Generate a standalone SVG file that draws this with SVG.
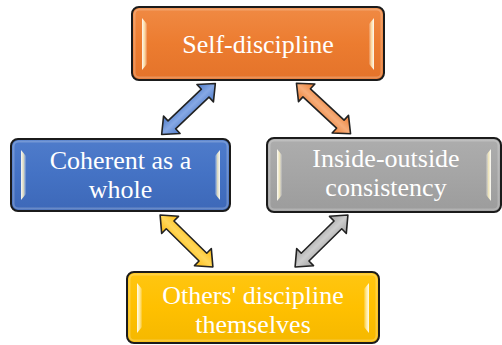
<svg xmlns="http://www.w3.org/2000/svg" width="502" height="345" viewBox="0 0 502 345">
  <style>
    .box { stroke: #1b1b1b; stroke-width: 2; }
    .bevel { fill: none; stroke: #ffffff; stroke-opacity: 0.22; stroke-width: 2; }
    .label { font-family: "Liberation Serif", "Times New Roman", serif; font-size: 26px; fill: #ffffff; text-anchor: middle; }
    .arrow { stroke: #222222; stroke-width: 1.6; stroke-linejoin: round; }
    .gloss { fill: url(#glossL); }
  </style>
  <defs>
    <linearGradient id="gOrange" x1="0" y1="0" x2="0" y2="1">
      <stop offset="0" stop-color="#f08a44"/>
      <stop offset="0.5" stop-color="#ec7c30"/>
      <stop offset="1" stop-color="#e4732a"/>
    </linearGradient>
    <linearGradient id="gBlue" x1="0" y1="0" x2="0" y2="1">
      <stop offset="0" stop-color="#4f7ccb"/>
      <stop offset="0.5" stop-color="#4472c4"/>
      <stop offset="1" stop-color="#3d68b8"/>
    </linearGradient>
    <linearGradient id="gGray" x1="0" y1="0" x2="0" y2="1">
      <stop offset="0" stop-color="#adadad"/>
      <stop offset="0.5" stop-color="#a5a5a5"/>
      <stop offset="1" stop-color="#9c9c9c"/>
    </linearGradient>
    <linearGradient id="gYellow" x1="0" y1="0" x2="0" y2="1">
      <stop offset="0" stop-color="#ffc612"/>
      <stop offset="0.5" stop-color="#ffc000"/>
      <stop offset="1" stop-color="#f5b800"/>
    </linearGradient>
    <linearGradient id="glossL" x1="0" y1="0" x2="1" y2="0">
      <stop offset="0" stop-color="#ffffff" stop-opacity="0.95"/>
      <stop offset="0.5" stop-color="#fff3c0" stop-opacity="0.8"/>
      <stop offset="1" stop-color="#ffffff" stop-opacity="0.1"/>
    </linearGradient>
    <linearGradient id="glossR" x1="1" y1="0" x2="0" y2="0">
      <stop offset="0" stop-color="#ffffff" stop-opacity="0.95"/>
      <stop offset="0.5" stop-color="#fff3c0" stop-opacity="0.8"/>
      <stop offset="1" stop-color="#ffffff" stop-opacity="0.1"/>
    </linearGradient>
    <linearGradient id="aBlue" x1="0" y1="0" x2="0" y2="1">
      <stop offset="0" stop-color="#4a78c8"/>
      <stop offset="0.5" stop-color="#86a8e4"/>
      <stop offset="1" stop-color="#4a78c8"/>
    </linearGradient>
    <linearGradient id="aOrange" x1="0" y1="0" x2="0" y2="1">
      <stop offset="0" stop-color="#ec7c30"/>
      <stop offset="0.5" stop-color="#f6ad7a"/>
      <stop offset="1" stop-color="#ec7c30"/>
    </linearGradient>
    <linearGradient id="aYellow" x1="0" y1="0" x2="0" y2="1">
      <stop offset="0" stop-color="#fdbb10"/>
      <stop offset="0.5" stop-color="#ffd75a"/>
      <stop offset="1" stop-color="#fdbb10"/>
    </linearGradient>
    <linearGradient id="aGray" x1="0" y1="0" x2="0" y2="1">
      <stop offset="0" stop-color="#a2a2a2"/>
      <stop offset="0.5" stop-color="#cdcdcd"/>
      <stop offset="1" stop-color="#a2a2a2"/>
    </linearGradient>
    <!-- double-headed block arrow, centred on the origin along the x axis -->
    <polygon id="dbl" points="-37,0 -23,-12 -23,-5.5 23,-5.5 23,-12 37,0 23,12 23,5.5 -23,5.5 -23,12"/>
  </defs>

  <rect width="502" height="345" fill="#ffffff"/>

  <g id="connectors">
    <use href="#dbl" class="arrow" fill="url(#aBlue)" transform="translate(188.5,109) rotate(-43.5)"/>
    <use href="#dbl" class="arrow" fill="url(#aOrange)" transform="translate(323.5,108.5) rotate(43)"/>
    <use href="#dbl" class="arrow" fill="url(#aYellow)" transform="translate(186.5,241) rotate(44.5)"/>
    <use href="#dbl" class="arrow" fill="url(#aGray)" transform="translate(321.5,241) rotate(-44.5)"/>
  </g>

  <g id="self-discipline">
    <rect class="box" x="132" y="7" width="252" height="73" rx="7" fill="url(#gOrange)"/>
    <rect class="bevel" x="134.5" y="9.5" width="247" height="68" rx="5"/>
    <path class="gloss" d="M142,18 L147,24 L147,64 L142,70 Z"/>
    <path d="M374,18 L369,24 L369,64 L374,70 Z" fill="url(#glossR)"/>
    <text class="label" x="258" y="53">Self-discipline</text>
  </g>

  <g id="coherent">
    <rect class="box" x="11" y="139" width="219" height="72" rx="7" fill="url(#gBlue)"/>
    <rect class="bevel" x="13.5" y="141.5" width="214" height="67" rx="5"/>
    <path class="gloss" d="M21,150 L26,156 L26,194 L21,200 Z"/>
    <path d="M220,150 L215,156 L215,194 L220,200 Z" fill="url(#glossR)"/>
    <text class="label" x="120.5" y="169">Coherent as a</text>
    <text class="label" x="120.5" y="198">whole</text>
  </g>

  <g id="inside-outside">
    <rect class="box" x="267" y="138" width="234" height="74" rx="7" fill="url(#gGray)"/>
    <rect class="bevel" x="269.5" y="140.5" width="229" height="69" rx="5"/>
    <path class="gloss" d="M277,149 L282,155 L282,195 L277,201 Z"/>
    <path d="M491,149 L486,155 L486,195 L491,201 Z" fill="url(#glossR)"/>
    <text class="label" x="386" y="167">Inside-outside</text>
    <text class="label" x="386" y="196">consistency</text>
  </g>

  <g id="others-discipline">
    <rect class="box" x="127" y="272" width="252" height="71" rx="7" fill="url(#gYellow)"/>
    <rect class="bevel" x="129.5" y="274.5" width="247" height="66" rx="5"/>
    <path class="gloss" d="M137,283 L142,289 L142,327 L137,333 Z"/>
    <path d="M369,283 L364,289 L364,327 L369,333 Z" fill="url(#glossR)"/>
    <text class="label" x="253" y="304">Others' discipline</text>
    <text class="label" x="253" y="333">themselves</text>
  </g>
</svg>
